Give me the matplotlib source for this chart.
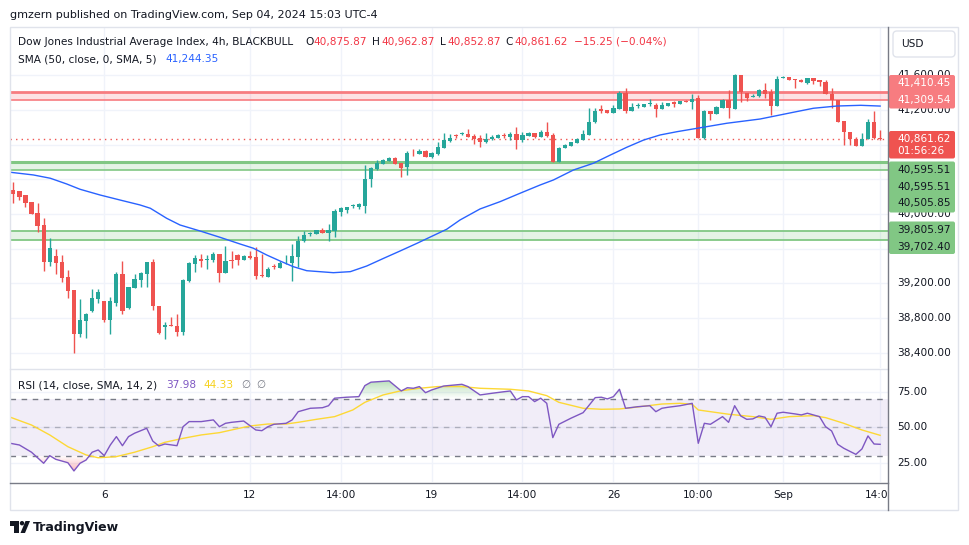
import numpy as np
import matplotlib.pyplot as plt
from matplotlib.patches import Rectangle, FancyBboxPatch, Polygon, Circle
from matplotlib.path import Path
from matplotlib.colors import LinearSegmentedColormap, to_rgb

# ---- values: 4h bars, index 0 = first visible bar ----
opens = [40277, 40269, 40219, 40138, 40012, 39873, 39450, 39516, 39447, 39274,
         39124, 38620, 38770, 38882, 39023, 38997, 38781, 38977, 39308, 38920,
         39150, 39242, 39312, 39443, 38939, 38701, 38720, 38709, 38643, 39231,
         39427, 39481, 39473, 39473, 39539, 39323, 39458, 39527, 39473, 39516,
         39504, 39289, 39277, 39392, 39377, 39443, 39438, 39508, 39689, 39769,
         39769, 39812, 39784, 39807, 40023, 40046, 40089, 40081, 40096, 40400,
         40519, 40580, 40615, 40642, 40591, 40538, 40703, 40692, 40726, 40661,
         40692, 40761, 40842, 40907, 40919, 40922, 40896, 40873, 40830, 40861,
         40880, 40907, 40888, 40922, 40857, 40903, 40934, 40888, 40949, 40911,
         40603, 40764, 40787, 40822, 40857, 40914, 41057, 41211, 41199, 41168,
         41214, 41395, 41191, 41245, 41237, 41265, 41257, 41211, 41249, 41291,
         41272, 41306, 41295, 41334, 40880, 41188, 41153, 41219, 41311, 41214,
         41603, 41399, 41352, 41361, 41430, 41410, 41245, 41572, 41580, 41557,
         41549, 41514, 41568, 41549, 41518, 41384, 41311, 41072, 40949, 40865,
         40787, 40865, 41064, 40875.87]
highs = [40372, 40269, 40219, 40138, 40130, 39957, 39727, 39596, 39527, 39354,
         39124, 39020, 38862, 39135, 39135, 38997, 39043, 39335, 39458, 39158,
         39305, 39331, 39443, 39481, 38939, 38758, 38812, 38844, 39251, 39443,
         39527, 39535, 39527, 39565, 39539, 39631, 39573, 39539, 39527, 39573,
         39620, 39535, 39389, 39420, 39458, 39527, 39651, 39746, 39804, 39796,
         39812, 39835, 39885, 40061, 40077, 40077, 40112, 40127, 40565, 40545,
         40623, 40638, 40654, 40657, 40591, 40726, 40746, 40749, 40738, 40715,
         40830, 40930, 40922, 40922, 40942, 40980, 40922, 40911, 40934, 40911,
         40919, 40930, 40949, 41007, 40945, 40949, 40934, 40969, 41057, 40930,
         40776, 40807, 40834, 40873, 40969, 41222, 41226, 41260, 41199, 41260,
         41422, 41453, 41276, 41276, 41272, 41323, 41283, 41288, 41283, 41303,
         41306, 41314, 41384, 41372, 41199, 41188, 41245, 41323, 41430, 41614,
         41603, 41399, 41384, 41441, 41507, 41441, 41591, 41588, 41580, 41557,
         41557, 41572, 41568, 41549, 41545, 41456, 41311, 41072, 40949, 40888,
         40934, 41095, 41188, 40962.87]
lows = [40123, 40161, 40084, 39997, 39789, 39346, 39404, 39312, 39219, 39028,
        38394, 38585, 38574, 38867, 38970, 38758, 38620, 38939, 38844, 38901,
        39143, 39162, 39162, 38893, 38616, 38559, 38712, 38597, 38605, 39219,
        39335, 39392, 39366, 39443, 39219, 39323, 39381, 39412, 39470, 39481,
        39251, 39274, 39277, 39366, 39377, 39420, 39231, 39392, 39677, 39750,
        39769, 39784, 39692, 39738, 39977, 40015, 40073, 40058, 40015, 40315,
        40507, 40580, 40615, 40580, 40430, 40450, 40665, 40692, 40661, 40642,
        40680, 40761, 40827, 40880, 40907, 40891, 40811, 40773, 40819, 40853,
        40880, 40880, 40853, 40749, 40834, 40903, 40873, 40888, 40891, 40603,
        40603, 40758, 40784, 40822, 40857, 40914, 41046, 41168, 41165, 41168,
        41214, 41168, 41184, 41219, 41237, 41249, 41122, 41211, 41245, 41237,
        41272, 41291, 41207, 40880, 40865, 41084, 41153, 41219, 41110, 41214,
        41295, 41303, 41352, 41352, 41334, 41141, 41245, 41565, 41545, 41449,
        41518, 41499, 41495, 41479, 41380, 41226, 41064, 40796, 40796, 40787,
        40787, 40865, 40865, 40852.87]
closes = [40231, 40199, 40130, 40003, 39865, 39450, 39611, 39438, 39265, 39116,
          38620, 38778, 38847, 39028, 39101, 38781, 38997, 39308, 38885, 39158,
          39247, 39320, 39443, 38936, 38631, 38720, 38712, 38643, 39239, 39435,
          39493, 39462, 39481, 39539, 39323, 39458, 39455, 39473, 39516, 39496,
          39289, 39282, 39366, 39389, 39435, 39447, 39516, 39689, 39758, 39777,
          39812, 39784, 39812, 40035, 40066, 40077, 40092, 40112, 40400, 40530,
          40591, 40623, 40642, 40580, 40534, 40703, 40698, 40726, 40661, 40703,
          40773, 40853, 40876, 40903, 40922, 40891, 40865, 40830, 40865, 40891,
          40911, 40903, 40922, 40857, 40911, 40937, 40888, 40949, 40903, 40603,
          40764, 40796, 40834, 40865, 40919, 41064, 41188, 41188, 41168, 41222,
          41395, 41191, 41234, 41257, 41272, 41272, 41207, 41257, 41283, 41272,
          41303, 41295, 41329, 40880, 41191, 41153, 41237, 41311, 41219, 41603,
          41410, 41334, 41361, 41430, 41384, 41245, 41557, 41580, 41545, 41542,
          41518, 41572, 41537, 41518, 41380, 41311, 41064, 40949, 40865, 40787,
          40865, 41064, 40880, 40861.62]

# SMA(50) read at bar positions
sma_idx = [-0.5, 3.3, 6.1, 8.8, 11, 14.3, 17.6, 20.9, 22.6, 25.3, 27.5, 30.8, 34.1,
           37.4, 39.6, 41.8, 44, 46.2, 48.4, 52.8, 55.6, 58.3, 61.1, 63.8, 66.6,
           71.5, 73.7, 77, 80.3, 83.6, 86.9, 89.1, 92.4, 95.7, 98.5, 101.2, 104,
           106.7, 109.5, 112.8, 117.7, 123.2, 128.7, 132, 135.9, 139.8, 143]
sma_val = [40481, 40450, 40412, 40346, 40285, 40219, 40161, 40104, 40066, 39950,
           39873, 39804, 39731, 39654, 39605, 39527, 39458, 39392, 39346, 39323,
           39335, 39400, 39489, 39573, 39662, 39824, 39931, 40058, 40142, 40239,
           40334, 40392, 40507, 40585, 40680, 40769, 40853, 40911, 40949, 40988,
           41046, 41095, 41173, 41219, 41245, 41253, 41244.35]

# RSI(14) and its SMA
rsi_idx = [-0.5, 1, 3, 5, 6, 7, 9, 10, 11, 12, 13, 14, 15, 16, 17, 18, 19, 20, 22, 23,
           24, 25, 27, 28, 29, 31, 33, 34, 35, 36, 38, 40, 41, 42, 43, 45, 46, 47, 49, 51,
           52, 53, 55, 57, 58, 59, 62, 64, 65, 66, 67, 68, 69, 71, 74, 75, 77, 79, 81, 82,
           83, 84, 85, 86, 87, 88, 89, 90, 92, 94, 96, 97, 98, 99, 100, 101, 103, 105, 106, 107,
           108, 110, 112, 113, 114, 115, 117, 118, 119, 120, 121, 122, 123, 124, 125, 126, 127,
           129, 130, 131, 133, 134, 135, 136, 137, 139, 140, 141, 142, 143]
rsi_val = [38.7, 37.5, 32.4, 24.6, 30.0, 27.4, 25.0, 19.2, 24.6, 26.9,
           32.4, 34.0, 30.0, 37.5, 43.4, 37.0, 43.4, 45.8, 49.3, 40.3,
           36.8, 38.2, 37.0, 50.4, 54.0, 54.0, 55.2, 50.4, 52.8, 53.5,
           54.4, 48.1, 47.6, 50.4, 52.1, 52.8, 55.2, 61.0, 63.4, 63.8,
           65.2, 70.5, 71.2, 71.6, 79.4, 81.8, 82.7, 75.6, 77.9, 77.5,
           78.7, 74.4, 76.3, 79.1, 80.3, 78.7, 72.8, 74.0, 75.1, 75.6,
           69.3, 71.6, 71.6, 68.1, 70.5, 66.9, 42.7, 52.1, 56.4, 60.3,
           70.9, 71.2, 70.0, 71.6, 76.8, 63.4, 64.5, 65.2, 61.0, 63.4,
           64.1, 65.2, 66.9, 38.7, 52.8, 52.1, 57.5, 53.5, 65.2, 58.0,
           55.6, 55.9, 58.0, 57.1, 50.4, 59.9, 60.6, 59.4, 58.7, 59.9,
           57.5, 50.4, 47.4, 38.0, 35.2, 30.9, 34.7, 43.9, 38.2, 37.98]
rsi_ma_idx = [-0.5, 3, 6, 9, 12, 14, 17, 20, 23, 25, 28, 31, 34, 36, 39, 42, 45, 47, 50, 53,
              56, 58, 61, 64, 67, 70, 74, 77, 82, 85, 88, 90, 94, 97, 100, 102, 107, 110,
              112, 113, 118, 122, 125, 128, 132, 134, 137, 140, 143]
rsi_ma_val = [57.1, 51.6, 44.6, 36.3, 30.5, 28.5, 29.3, 32.4, 36.3, 39.4,
              42.2, 44.6, 46.2, 48.1, 50.9, 52.3, 52.3, 53.5, 55.6, 57.5,
              62.2, 67.6, 72.8, 75.8, 77.5, 78.7, 78.7, 77.5, 76.8, 75.6,
              72.3, 67.6, 63.4, 62.7, 62.9, 63.8, 66.4, 66.9, 66.2, 62.2,
              59.2, 57.5, 55.6, 57.5, 58.2, 56.8, 52.8, 48.1, 44.33]

red_zone = (41309.54, 41410.45)
green_zone_hi = (40505.85, 40595.51)
green_zone_lo = (39702.40, 39805.97)
last_price = 40861.62

price_ticks = [38400, 38800, 39200, 39600, 40000, 40400, 40800, 41200, 41600]
time_idx = [15, 39, 54, 69, 84, 99, 113, 127, 143]
time_lbl = ["6", "12", "14:00", "19", "14:00", "26", "10:00", "Sep", "14:00"]

UP, DOWN = "#26A69A", "#EF5350"
TXT = "#131722"
GRID = "#F0F3FA"
BORDER = "#787B86"
FS = 7.6

W, H = 970, 545
fig = plt.figure(figsize=(W / 100, H / 100), dpi=100, facecolor="white")


def box(x0, y0, x1, y1):
    return [x0 / W, 1 - y1 / H, (x1 - x0) / W, (y1 - y0) / H]


ax = fig.add_axes(box(10, 27, 888, 368))
ar = fig.add_axes(box(10, 369, 888, 482))
XLIM = (-0.55, 144.3)

# ---- main pane ----
o, h, l, c = (np.array(v, dtype=float) for v in (opens, highs, lows, closes))
x = np.arange(len(o))
col = np.where(c >= o, UP, DOWN)
ax.vlines(x, np.minimum(l, np.minimum(o, c)), np.maximum(h, np.maximum(o, c)),
          colors=col, lw=1, zorder=4)
ax.bar(x, np.maximum(np.abs(c - o), 9), bottom=np.minimum(o, c), width=0.7,
       color=col, linewidth=0, zorder=5)

ax.axhspan(*red_zone, color="#F23645", alpha=0.14, lw=0, zorder=2)
ax.axhline(red_zone[1], color="#F77C80", lw=2, zorder=3)
ax.axhline(red_zone[0], color="#F77C80", lw=1.2, zorder=3)
ax.axhspan(*green_zone_hi, color="#4CAF50", alpha=0.14, lw=0, zorder=2)
ax.axhline(green_zone_hi[1], color="#81C784", lw=2.2, zorder=3)
ax.axhline(green_zone_hi[0], color="#81C784", lw=1.2, zorder=3)
ax.axhspan(*green_zone_lo, color="#4CAF50", alpha=0.14, lw=0, zorder=2)
ax.axhline(green_zone_lo[1], color="#81C784", lw=1.3, zorder=3)
ax.axhline(green_zone_lo[0], color="#81C784", lw=1.3, zorder=3)

ax.plot(sma_idx, sma_val, color="#2962FF", lw=1, zorder=6)
ax.axhline(last_price, color=DOWN, lw=1, ls=(0, (1, 3)), zorder=3)

ax.set_xlim(*XLIM)
ax.set_ylim(38224, 42156)
ax.set_yticks(price_ticks)
ax.set_xticks(time_idx)
ax.grid(True, color=GRID, lw=1)
ax.set_axisbelow(True)
ax.tick_params(left=False, bottom=False, labelleft=False, labelbottom=False)
for s in ax.spines.values():
    s.set_visible(False)

# ---- RSI pane ----
ri, rv = np.array(rsi_idx, float), np.array(rsi_val, float)


def grad_fill(axis, xs, ys, base, above, color, amax, far):
    mask = ys > base if above else ys < base
    coll = axis.fill_between(xs, ys, base, where=mask, interpolate=True,
                             facecolor="none", edgecolor="none")
    paths = coll.get_paths()
    if not paths:
        return
    r, g, b = to_rgb(color)
    cmap = LinearSegmentedColormap.from_list("g", [(r, g, b, 0), (r, g, b, amax)])
    ramp = np.linspace(0, 1, 256).reshape(-1, 1)
    if above:
        ext = [xs.min(), xs.max(), base, far]
    else:
        ramp = ramp[::-1]
        ext = [xs.min(), xs.max(), far, base]
    im = axis.imshow(ramp, cmap=cmap, aspect="auto", origin="lower", extent=ext, zorder=2)
    im.set_clip_path(Path.make_compound_path(*paths), transform=axis.transData)


ar.axhspan(30, 70, color="#7E57C2", alpha=0.1, lw=0, zorder=1)
grad_fill(ar, ri, rv, 70, True, "#4CAF50", 0.4, 83)
grad_fill(ar, ri, rv, 30, False, "#F23645", 0.35, 19)
ar.axhline(70, color=BORDER, lw=1, ls=(0, (4, 4)), zorder=3)
ar.axhline(50, color=BORDER, lw=1, ls=(0, (4, 4)), alpha=0.5, zorder=3)
ar.axhline(30, color=BORDER, lw=1, ls=(0, (4, 4)), zorder=3)
ar.plot(rsi_ma_idx, rsi_ma_val, color="#FDD835", lw=1, zorder=4)
ar.plot(ri, rv, color="#7E57C2", lw=1, zorder=5)
ar.set_xlim(*XLIM)
ar.set_ylim(11.4, 91.1)
ar.set_yticks([25, 50, 75])
ar.set_xticks(time_idx)
ar.grid(True, color=GRID, lw=1)
ar.set_axisbelow(True)
ar.tick_params(left=False, bottom=False, labelleft=False, labelbottom=False)
for s in ar.spines.values():
    s.set_visible(False)

# ---- overlay in pixel coordinates: scales, legends, frame ----
ov = fig.add_axes([0, 0, 1, 1], zorder=10)
ov.set_xlim(0, W)
ov.set_ylim(H, 0)
ov.axis("off")
ov.patch.set_alpha(0)


def py(p):
    lo, hi = ax.get_ylim()
    return 27 + (hi - p) / (hi - lo) * 341


def ry(v):
    lo, hi = ar.get_ylim()
    return 369 + (hi - v) / (hi - lo) * 113


def px(i):
    lo, hi = XLIM
    return 10 + (i - lo) / (hi - lo) * 878


# price labels on the scale (stacked boxes as TradingView draws them)
label_boxes = [
    (75, 108.5, "#F77C80", "white", [(82.8, f"{red_zone[1]:,.2f}"), (99.5, f"{red_zone[0]:,.2f}")]),
    (131, 158.5, DOWN, "white", [(139, f"{last_price:,.2f}"), (151.5, "01:56:26")]),
    (161.5, 212.5, "#81C784", TXT, [(170, f"{green_zone_hi[1]:,.2f}"), (186.6, f"{green_zone_hi[1]:,.2f}"),
                                    (203.3, f"{green_zone_hi[0]:,.2f}")]),
    (221.5, 254, "#81C784", TXT, [(230.2, f"{green_zone_lo[1]:,.2f}"), (246.6, f"{green_zone_lo[0]:,.2f}")]),
]

# axis tick labels; those fully covered by a label box are not visible in the reference
for p in price_ticks:
    yy = py(p)
    if any(y0 + 4 < yy < y1 - 4 for y0, y1, *_ in label_boxes):
        continue
    ov.text(897, yy, f"{p:,.2f}", fontsize=FS, color=TXT, va="center", ha="left", zorder=2)
for v in (25, 50, 75):
    ov.text(897, ry(v), f"{v:.2f}", fontsize=FS, color=TXT, va="center", ha="left", zorder=2)
for i, t in zip(time_idx, time_lbl):
    ov.text(px(i), 495, t, fontsize=FS, color=TXT, va="center", ha="center", zorder=2)

for y0, y1, fc, tc, items in label_boxes:
    ov.add_patch(FancyBboxPatch((889, y0), 66, y1 - y0, boxstyle="round,pad=0,rounding_size=2",
                                facecolor=fc, edgecolor="none", zorder=3))
    for yy, t in items:
        ov.text(897, yy, t, fontsize=FS, color=tc, va="center", ha="left", zorder=4)

# USD button
ov.add_patch(FancyBboxPatch((893, 31), 62, 26, boxstyle="round,pad=0,rounding_size=4",
                            facecolor="white", edgecolor="#E0E3EB", lw=1, zorder=3))
ov.text(901, 44, "USD", fontsize=FS, color=TXT, va="center", ha="left", zorder=4)

# hide time label overflow under the price scale column
ov.add_patch(Rectangle((889, 483), 69, 27, facecolor="white", edgecolor="none", zorder=5))

# frame lines
ov.add_patch(Rectangle((10, 27), 948, 483, facecolor="none", edgecolor="#E0E3EB", lw=1, zorder=6))
ov.plot([10, 888], [368.5, 368.5], color="#E0E3EB", lw=1, zorder=6)
ov.plot([10, 888], [482.5, 482.5], color=BORDER, lw=1, zorder=6)
ov.plot([888.5, 888.5], [27, 510], color=BORDER, lw=1, zorder=6)

# header and legends
ov.text(10, 15, "gmzern published on TradingView.com, Sep 04, 2024 15:03 UTC-4",
        fontsize=8, color=TXT, va="center", ha="left")
ov.text(18, 42, "Dow Jones Industrial Average Index, 4h, BLACKBULL", fontsize=FS, color=TXT,
        va="center", ha="left")
ohlc_parts = [(305, "O", TXT), (313, "40,875.87", "#F23645"), (372, "H", TXT), (381, "40,962.87", "#F23645"),
              (440, "L", TXT), (447, "40,852.87", "#F23645"), (505, "C", TXT), (514, "40,861.62", "#F23645"),
              (574, "\u221215.25 (\u22120.04%)", "#F23645")]
for xx, t, cc in ohlc_parts:
    ov.text(xx, 42, t, fontsize=FS, color=cc, va="center", ha="left")
ov.text(18, 59, "SMA (50, close, 0, SMA, 5)", fontsize=FS, color=TXT, va="center", ha="left")
ov.text(165, 59, f"{sma_val[-1]:,.2f}", fontsize=FS, color="#2962FF", va="center", ha="left")
ov.text(18, 385, "RSI (14, close, SMA, 14, 2)", fontsize=FS, color=TXT, va="center", ha="left")
ov.text(166, 385, f"{rsi_val[-1]:.2f}", fontsize=FS, color="#7E57C2", va="center", ha="left")
ov.text(203, 385, f"{rsi_ma_val[-1]:.2f}", fontsize=FS, color="#F7D21E", va="center", ha="left")
ov.text(241, 385, "\u2205", fontsize=FS, color=BORDER, va="center", ha="left")
ov.text(256, 385, "\u2205", fontsize=FS, color=BORDER, va="center", ha="left")

# TradingView mark
ov.add_patch(Rectangle((10, 521), 9, 4.5, facecolor=TXT, edgecolor="none"))
ov.add_patch(Rectangle((14.5, 521), 4.5, 12, facecolor=TXT, edgecolor="none"))
ov.add_patch(Circle((22, 523.2), 2.2, facecolor=TXT, edgecolor="none"))
ov.add_patch(Polygon([(20.5, 533), (25.5, 521), (30, 521), (25, 533)], facecolor=TXT, edgecolor="none"))
ov.text(33, 527, "TradingView", fontsize=9, color=TXT, va="center", ha="left", fontweight="bold")

fig.savefig("out.png", dpi=100, facecolor="white")
